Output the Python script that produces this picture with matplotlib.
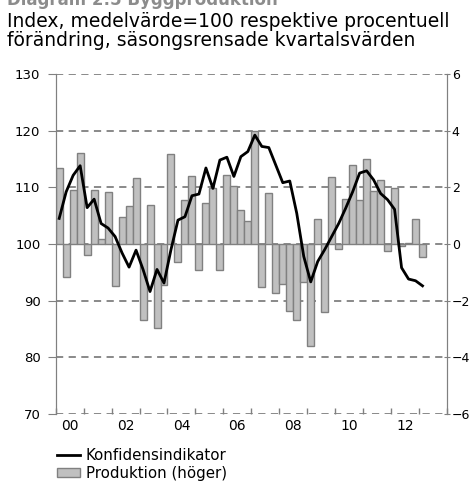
import matplotlib
matplotlib.use('Agg')
import matplotlib.pyplot as plt
import numpy as np

# Kvartalsdata 2000K1 - 2013K1
konfidens = [104.5, 109.2, 112.1, 113.8, 106.4, 107.9, 103.6, 102.8, 101.3, 98.4,
             95.9, 98.9, 95.5, 91.6, 95.5, 93.1, 99.0, 104.2, 104.8, 108.5,
             108.8, 113.4, 109.8, 114.8, 115.3, 111.9, 115.4, 116.3, 119.2, 117.2,
             117.0, 113.9, 110.8, 111.1, 105.4, 97.8, 93.3, 96.9, 99.0, 101.3,
             103.6, 106.3, 109.2, 112.5, 112.9, 111.3, 108.9, 107.8, 106.1, 95.8,
             93.8, 93.5, 92.6]
produktion = [2.67, -1.18, 1.9, 3.2, -0.39, 1.9, 0.16, 1.82, -1.49, 0.96,
              1.34, 2.34, -2.67, 1.36, -2.96, -1.46, 3.16, -0.64, 1.55, 2.38,
              -0.93, 1.44, 1.96, -0.91, 2.44, 2.05, 1.18, 0.81, 4.0, -1.53,
              1.81, -1.72, -1.41, -2.35, -2.7, -1.35, -3.62, 0.89, -2.41, 2.35,
              -0.18, 1.59, 2.79, 1.55, 3.0, 1.85, 2.24, -0.25, 1.99, -0.09,
              0.02, 0.88, -0.45]
ar_etiketter = ['00', '02', '04', '06', '08', '10', '12']

x = np.arange(len(konfidens))
grey = '#808080'

fig = plt.figure(figsize=(4.72, 4.83), dpi=100)
ax = fig.add_axes([0.118, 0.143, 0.829, 0.704])
ax2 = ax.twinx()

# staplar (höger axel)
ax2.bar(x, produktion, width=1.0, color='#c0c0c0', edgecolor=grey, linewidth=1.0,
        label='Produktion (höger)', zorder=2)
ax2.set_ylim(-6, 6)
ax2.set_yticks(np.arange(-6, 7, 2))
ax2.set_axisbelow(True)
ax2.grid(axis='y', color=grey, linestyle=(0, (4, 3)), linewidth=1.3, zorder=0)

# linje (vänster axel)
ax.plot(x, konfidens, color='black', linewidth=2, label='Konfidensindikator', zorder=3)
ax.set_ylim(70, 130)
ax.set_yticks(np.arange(70, 131, 10))
ax.set_zorder(ax2.get_zorder() + 1)
ax.patch.set_visible(False)

ax.set_xlim(-0.5, 55.5)
ax.set_xticks(np.arange(-0.5, 56, 4))
ax.set_xticklabels([])
ax.set_xticks(np.arange(1.5, 53, 8), minor=True)
ax.set_xticklabels(ar_etiketter, minor=True, fontsize=10)
ax.tick_params(axis='x', which='major', direction='in', length=4, color=grey, width=1)
ax.tick_params(axis='x', which='minor', length=0, pad=4)
ax.tick_params(axis='y', direction='out', length=6, color=grey, labelsize=9.5, pad=5)
ax2.tick_params(axis='y', direction='inout', length=5, color=grey, labelsize=9, pad=1)

for a in (ax, ax2):
    a.spines['top'].set_visible(False)
    a.spines['bottom'].set_visible(False)
    a.spines['left'].set_color(grey)
    a.spines['right'].set_color(grey)

fig.text(0.015, 0.99, 'Diagram 2:5 Byggproduktion', fontsize=12, fontweight='bold',
         color='#8c8c8c', va='baseline')
fig.text(0.015, 0.944, 'Index, medelvärde=100 respektive procentuell', fontsize=13.5, va='baseline')
fig.text(0.015, 0.905, 'förändring, säsongsrensade kvartalsvärden', fontsize=13.5, va='baseline')

h1, l1 = ax.get_legend_handles_labels()
h2, l2 = ax2.get_legend_handles_labels()
fig.legend(h1 + h2, l1 + l2, loc='upper left', bbox_to_anchor=(0.105, 0.088),
           frameon=False, fontsize=10.8, handlelength=1.5, handleheight=0.6,
           handletextpad=0.4, labelspacing=0.2, borderpad=0)

plt.savefig('out.png', dpi=100)
